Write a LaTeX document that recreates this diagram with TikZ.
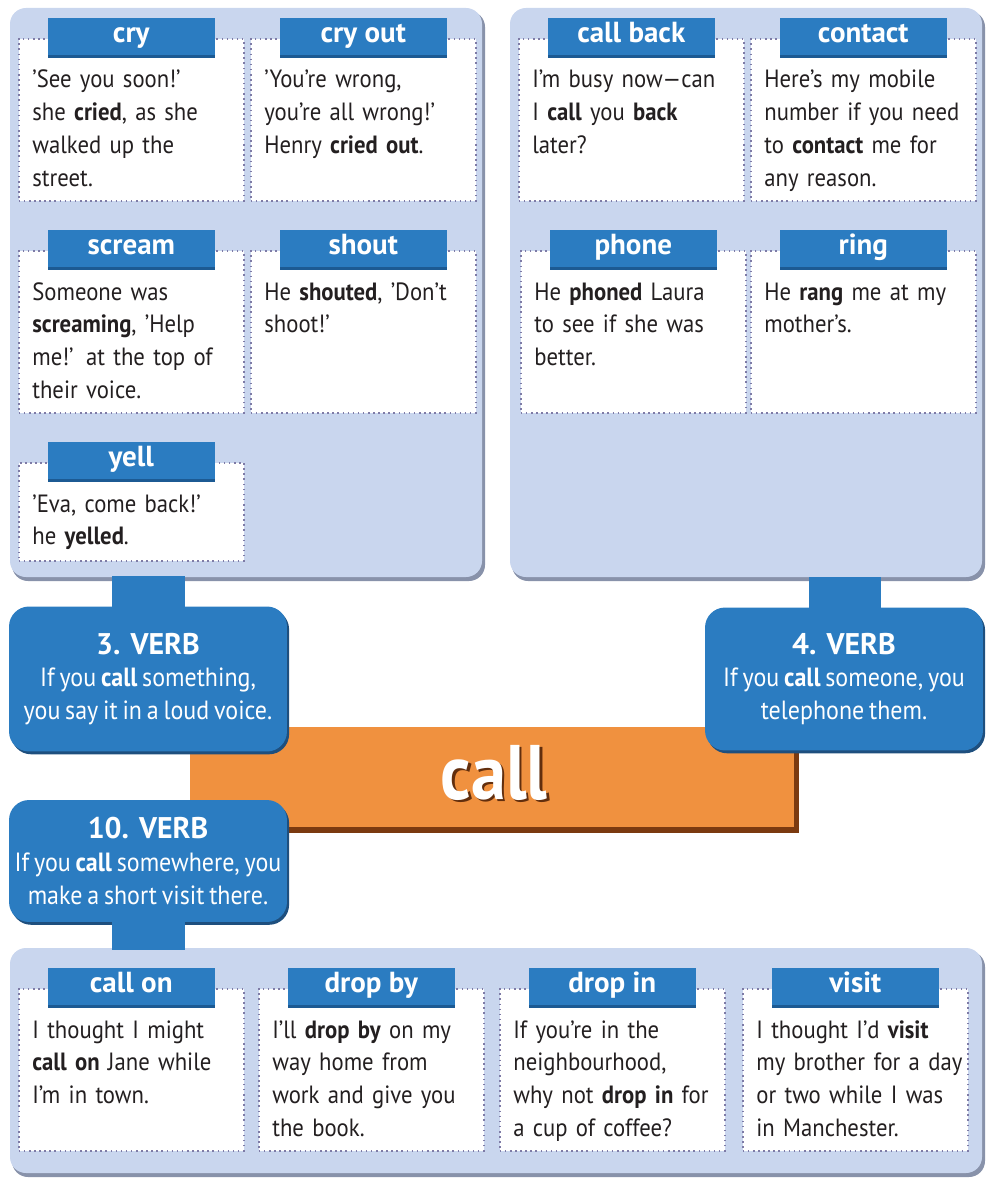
\documentclass[tikz,border=0pt]{standalone}
\usepackage{fontspec}
\setmainfont{PT Sans}[FakeStretch=0.91, WordSpace=0.75]
\newfontfamily\headfont{PT Sans}
\usepackage{xcolor}
\usepackage{tikz}
\usetikzlibrary{calc}

\definecolor{panelblue}{HTML}{C9D6EE}
\definecolor{panelshade}{HTML}{8892AA}
\definecolor{tabblue}{HTML}{2B7CC1}
\definecolor{tabdark}{HTML}{1C5A93}
\definecolor{boxshade}{HTML}{1E4F7E}
\definecolor{dotline}{HTML}{7E7BA6}
\definecolor{barorange}{HTML}{F0913F}
\definecolor{barbrown}{HTML}{7B3A10}
\definecolor{inktext}{HTML}{231F20}

% one example card: name, x, y, height, title, text
\newcommand{\wordcard}[6]{%
    \node[card, minimum height=#4*0.02cm] (#1) at (#2,#3) {};
    \node[tab] (#1tab) at (#1.north) {#5};
    \node[example] (#1txt) at ($(#1.north west)+(14,50)$) {#6};
}
% bold heading of a sense box
\newcommand{\sensehead}[1]{{\headfont\bfseries\fontsize{17}{18.7}\selectfont #1}}

\begin{document}
\begin{tikzpicture}[x=0.02cm, y=-0.02cm,
    panel/.style={fill=panelblue, rounded corners=0.32cm},
    panelshadow/.style={fill=panelshade, rounded corners=0.32cm},
    card/.style={anchor=north west, draw=dotline, dotted, line width=0.9pt,
        fill=white, minimum width=4.5cm, inner sep=0pt},
    tab/.style={fill=tabblue, minimum width=3.34cm, minimum height=0.8cm,
        inner sep=0pt, text=white, text height=0.72em, text depth=0.16em,
        font=\headfont\bfseries\fontsize{16.5}{18}\selectfont,
        path picture={\fill[tabdark] ([yshift=1.6pt]path picture bounding box.south west)
            rectangle (path picture bounding box.south east);}},
    example/.style={anchor=base west, text width=5cm, align=left, inner sep=0pt,
        text=inktext, font=\fontsize{14.2}{18.6}\selectfont},
    verbbox/.style={fill=tabblue, rounded corners=0.4cm, minimum width=5.56cm,
        text=white, align=center, inner sep=0pt,
        font=\fontsize{15}{18.7}\selectfont,
        preaction={fill=boxshade, transform canvas={xshift=1.2pt, yshift=-1.6pt}}},
    stem/.style={fill=tabblue},
    wordfont/.style={font=\bfseries\fontsize{44}{46}\selectfont, inner sep=0pt}]
    \useasboundingbox (0,0) rectangle (1000,1179);

    % Panels
    \fill[panelshadow] (12,11) rectangle (485,581);
    \fill[panel] (10,8) rectangle (482,577);
    \fill[panelshadow] (512,11) rectangle (985,581);
    \fill[panel] (510,8) rectangle (982,577);
    \fill[panelshadow] (12,951) rectangle (985,1177);
    \fill[panel] (10,948) rectangle (982,1173);

    % Left panel: saying things loudly
    \wordcard{cry}{18}{38}{162}{cry}{'See you soon!'\\she \textbf{cried}, as she\\walked up the\\street.}
    \wordcard{cryout}{250}{38}{162}{cry out}{'You're wrong,\\you're all wrong!'\\Henry \textbf{cried out}.}
    \wordcard{scream}{18}{250}{162}{scream}{Someone was\\\textbf{screaming}, 'Help\\me!' at the top of\\their voice.}
    \wordcard{shout}{250}{250}{162}{shout}{He \textbf{shouted}, 'Don't\\shoot!'}
    \wordcard{yell}{18}{462}{98}{yell}{'Eva, come back!'\\he \textbf{yelled}.}

    % Right panel: telephoning
    \wordcard{callback}{518}{38}{162}{call back}{I'm busy now---can\\I \textbf{call} you \textbf{back}\\later?}
    \wordcard{contact}{750}{38}{162}{contact}{Here's my mobile\\number if you need\\to \textbf{contact} me for\\any reason.}
    \wordcard{phone}{520}{250}{162}{phone}{He \textbf{phoned} Laura\\to see if she was\\better.}
    \wordcard{ring}{750}{250}{162}{ring}{He \textbf{rang} me at my\\mother's.}

    % Bottom panel: visiting
    \wordcard{callon}{18}{988}{162}{call on}{I thought I might\\\textbf{call on} Jane while\\I'm in town.}
    \wordcard{dropby}{258}{988}{162}{drop by}{I'll \textbf{drop by} on my\\way home from\\work and give you\\the book.}
    \wordcard{dropin}{499}{988}{162}{drop in}{If you're in the\\neighbourhood,\\why not \textbf{drop in} for\\a cup of coffee?}
    \wordcard{visit}{742}{988}{162}{visit}{I thought I'd \textbf{visit}\\my brother for a day\\or two while I was\\in Manchester.}

    % Headword bar
    \node[fill=barorange, minimum width=12.08cm, minimum height=2cm, inner sep=0pt,
        preaction={fill=barbrown, transform canvas={xshift=2.6pt, yshift=-3.2pt}}]
        (callbar) at (492,777) {};
    \node[wordfont, text=white] (callword) at ($(callbar)+(2,-3)$)
        {\rlap{\kern1.6pt\raisebox{-1.6pt}{\textcolor{barbrown!80!black}{call}}}call};

    % Sense boxes
    \node[verbbox, minimum height=2.9cm] (verb3) at (148,679)
        {\sensehead{3. VERB}\\If you \textbf{call} something,\\you say it in a loud voice.};
    \node[verbbox, minimum height=2.86cm] (verb4) at (844,679)
        {\sensehead{4. VERB}\\If you \textbf{call} someone, you\\telephone them.};
    \node[verbbox, minimum height=2.44cm] (verb10) at (148,861)
        {\sensehead{10. VERB}\\If you \textbf{call} somewhere, you\\make a short visit there.};

    % Stems to the panels
    \fill[stem] ($(verb3.north)+(-36,2)$) rectangle ($(verb3.north)+(37,-30)$);
    \fill[stem] ($(verb4.north)+(-35,2)$) rectangle ($(verb4.north)+(37,-30)$);
    \fill[stem] ($(verb10.south)+(-36,-2)$) rectangle ($(verb10.south)+(37,28)$);
\end{tikzpicture}
\end{document}
